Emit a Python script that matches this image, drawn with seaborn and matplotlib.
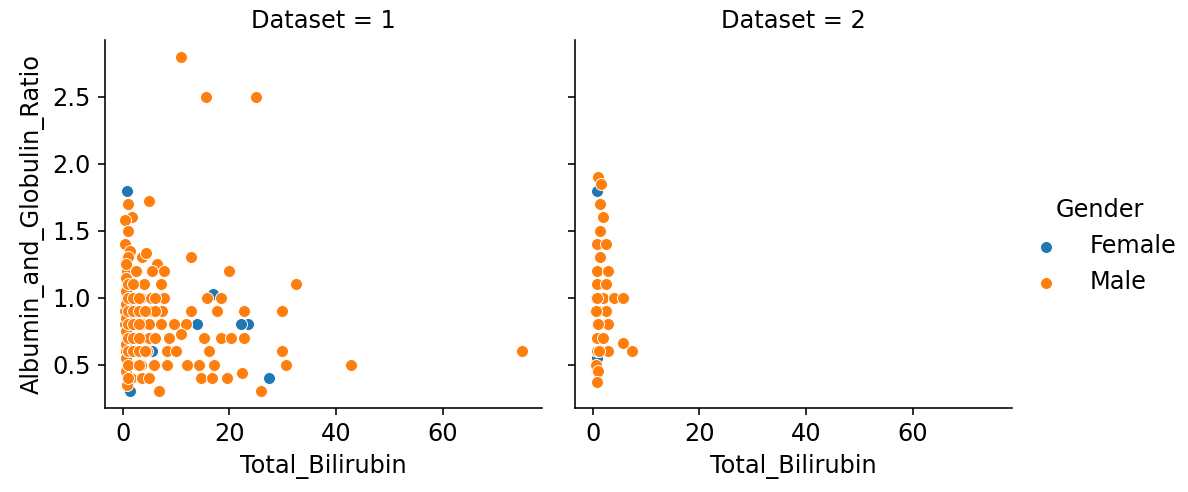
import matplotlib
matplotlib.use("Agg")
import matplotlib.pyplot as plt
import seaborn as sns
import pandas as pd

plt.rcParams["font.size"] = 12

# ---- Data ----
# Dataset 1, Male
ds1_male_bili = [10.9, 15.6, 25.0, 4.9, 0.9, 1.7, 0.4, 0.9, 0.5, 1.3, 0.9, 3.6, 12.8, 4.3, 6.4,
                 0.8, 2.4, 5.5, 7.7, 20.0,
                 0.8, 4.0, 7.1, 32.5,
                 1.5, 3.4, 5.3, 7.7, 15.8, 18.4,
                 0.5, 2.6, 5.5, 7.3, 12.8, 17.7, 22.8, 29.9,
                 0.5, 1.7, 3.6, 4.9, 7.1, 9.6, 11.9,
                 1.1, 3.4, 4.9, 8.7, 15.2, 18.4, 20.3, 22.8, 10.9,
                 0.6, 2.6, 4.5, 8.3, 10.0, 16.2, 29.9, 74.9,
                 1.1, 3.4, 5.8, 8.3, 12.0, 14.3, 17.1, 30.6, 42.9,
                 22.4, 1.5, 3.6, 4.9, 14.7, 16.7, 19.6, 0.8, 6.8, 26.0,
                 0.7, 0.7, 0.7, 0.7, 0.7, 0.7, 0.7, 0.7, 0.7,
                 1.0, 1.0, 1.0, 1.0, 1.0, 1.0, 1.0, 1.0,
                 2.0, 2.0, 2.0, 2.0, 2.0, 2.0,
                 3.0, 3.0, 3.0, 3.0, 3.0, 3.0,
                 6.0, 6.0, 6.0, 4.2, 4.2]
ds1_male_agr = [2.8, 2.5, 2.5, 1.72, 1.7, 1.6, 1.58, 1.5, 1.4, 1.35, 1.3, 1.3, 1.3, 1.33, 1.25,
                1.2, 1.2, 1.2, 1.2, 1.2,
                1.1, 1.1, 1.1, 1.1,
                1.0, 1.0, 1.0, 1.0, 1.0, 1.0,
                0.9, 0.9, 0.9, 0.9, 0.9, 0.9, 0.9, 0.9,
                0.8, 0.8, 0.8, 0.8, 0.8, 0.8, 0.8,
                0.7, 0.7, 0.7, 0.7, 0.7, 0.7, 0.7, 0.7, 0.73,
                0.6, 0.6, 0.6, 0.6, 0.6, 0.6, 0.6, 0.6,
                0.5, 0.5, 0.5, 0.5, 0.5, 0.5, 0.5, 0.5, 0.5,
                0.44, 0.4, 0.4, 0.4, 0.4, 0.4, 0.4, 0.35, 0.3, 0.3,
                0.45, 0.55, 0.65, 0.75, 0.85, 0.95, 1.05, 1.15, 1.25,
                0.4, 0.5, 0.6, 0.7, 0.8, 0.9, 1.0, 1.1,
                0.6, 0.7, 0.8, 0.9, 1.0, 1.1,
                0.5, 0.6, 0.7, 0.8, 0.9, 1.0,
                0.7, 0.9, 1.0, 0.9, 0.6]

# Dataset 1, Female
ds1_female_bili = [0.8, 14.0, 23.4, 22.2, 27.5, 1.3, 5.5, 17.0, 0.7, 1.0, 2.0]
ds1_female_agr = [1.8, 0.8, 0.8, 0.8, 0.4, 0.3, 0.6, 1.03, 0.9, 1.0, 0.8]

# Dataset 2, Male
ds2_male_bili = [0.9, 1.5, 1.3, 1.9, 1.3, 0.8, 2.4, 1.3, 0.8, 2.8, 0.8, 2.4, 1.9, 3.9, 5.6,
                 0.9, 2.4, 0.8, 2.8, 0.8, 2.0, 5.7, 7.3, 0.8, 2.8, 0.6, 0.9, 0.8,
                 0.7, 0.8, 1.0, 0.7, 1.1]
ds2_male_agr = [1.9, 1.85, 1.7, 1.6, 1.5, 1.4, 1.4, 1.3, 1.2, 1.2, 1.1, 1.1, 1.0, 1.0, 1.0,
                0.9, 0.9, 0.8, 0.8, 0.7, 0.7, 0.66, 0.6, 0.6, 0.6, 0.5, 0.45, 0.37,
                1.0, 1.0, 0.8, 0.9, 0.6]

# Dataset 2, Female
ds2_female_bili = [0.75, 0.8, 1.0, 0.8]
ds2_female_agr = [1.8, 0.45, 1.0, 0.55]

rows = []
for ds, g_, xs, ys in [(1, "Male", ds1_male_bili, ds1_male_agr),
                       (1, "Female", ds1_female_bili, ds1_female_agr),
                       (2, "Male", ds2_male_bili, ds2_male_agr),
                       (2, "Female", ds2_female_bili, ds2_female_agr)]:
    for x, y in zip(xs, ys):
        rows.append({"Dataset": ds, "Gender": g_, "Total_Bilirubin": x,
                     "Albumin_and_Globulin_Ratio": y})
df = pd.DataFrame(rows)

g = sns.FacetGrid(df, col="Dataset", hue="Gender", hue_order=["Female", "Male"])
g.map(sns.scatterplot, "Total_Bilirubin", "Albumin_and_Globulin_Ratio")
g.add_legend()

fig = g.figure
fig.set_dpi(144)
fig.set_size_inches(1188 / 144, 492 / 144)
fig.subplots_adjust(left=105 / 1188, right=1012 / 1188, bottom=1 - 408 / 492,
                    top=1 - 40 / 492, wspace=33 / 437)
g._legend.set_bbox_to_anchor((1.0 + 10 / 1188, 0.5), transform=fig.transFigure)
g._legend.set_loc("center right")

fig.savefig("out.png", dpi=144)
